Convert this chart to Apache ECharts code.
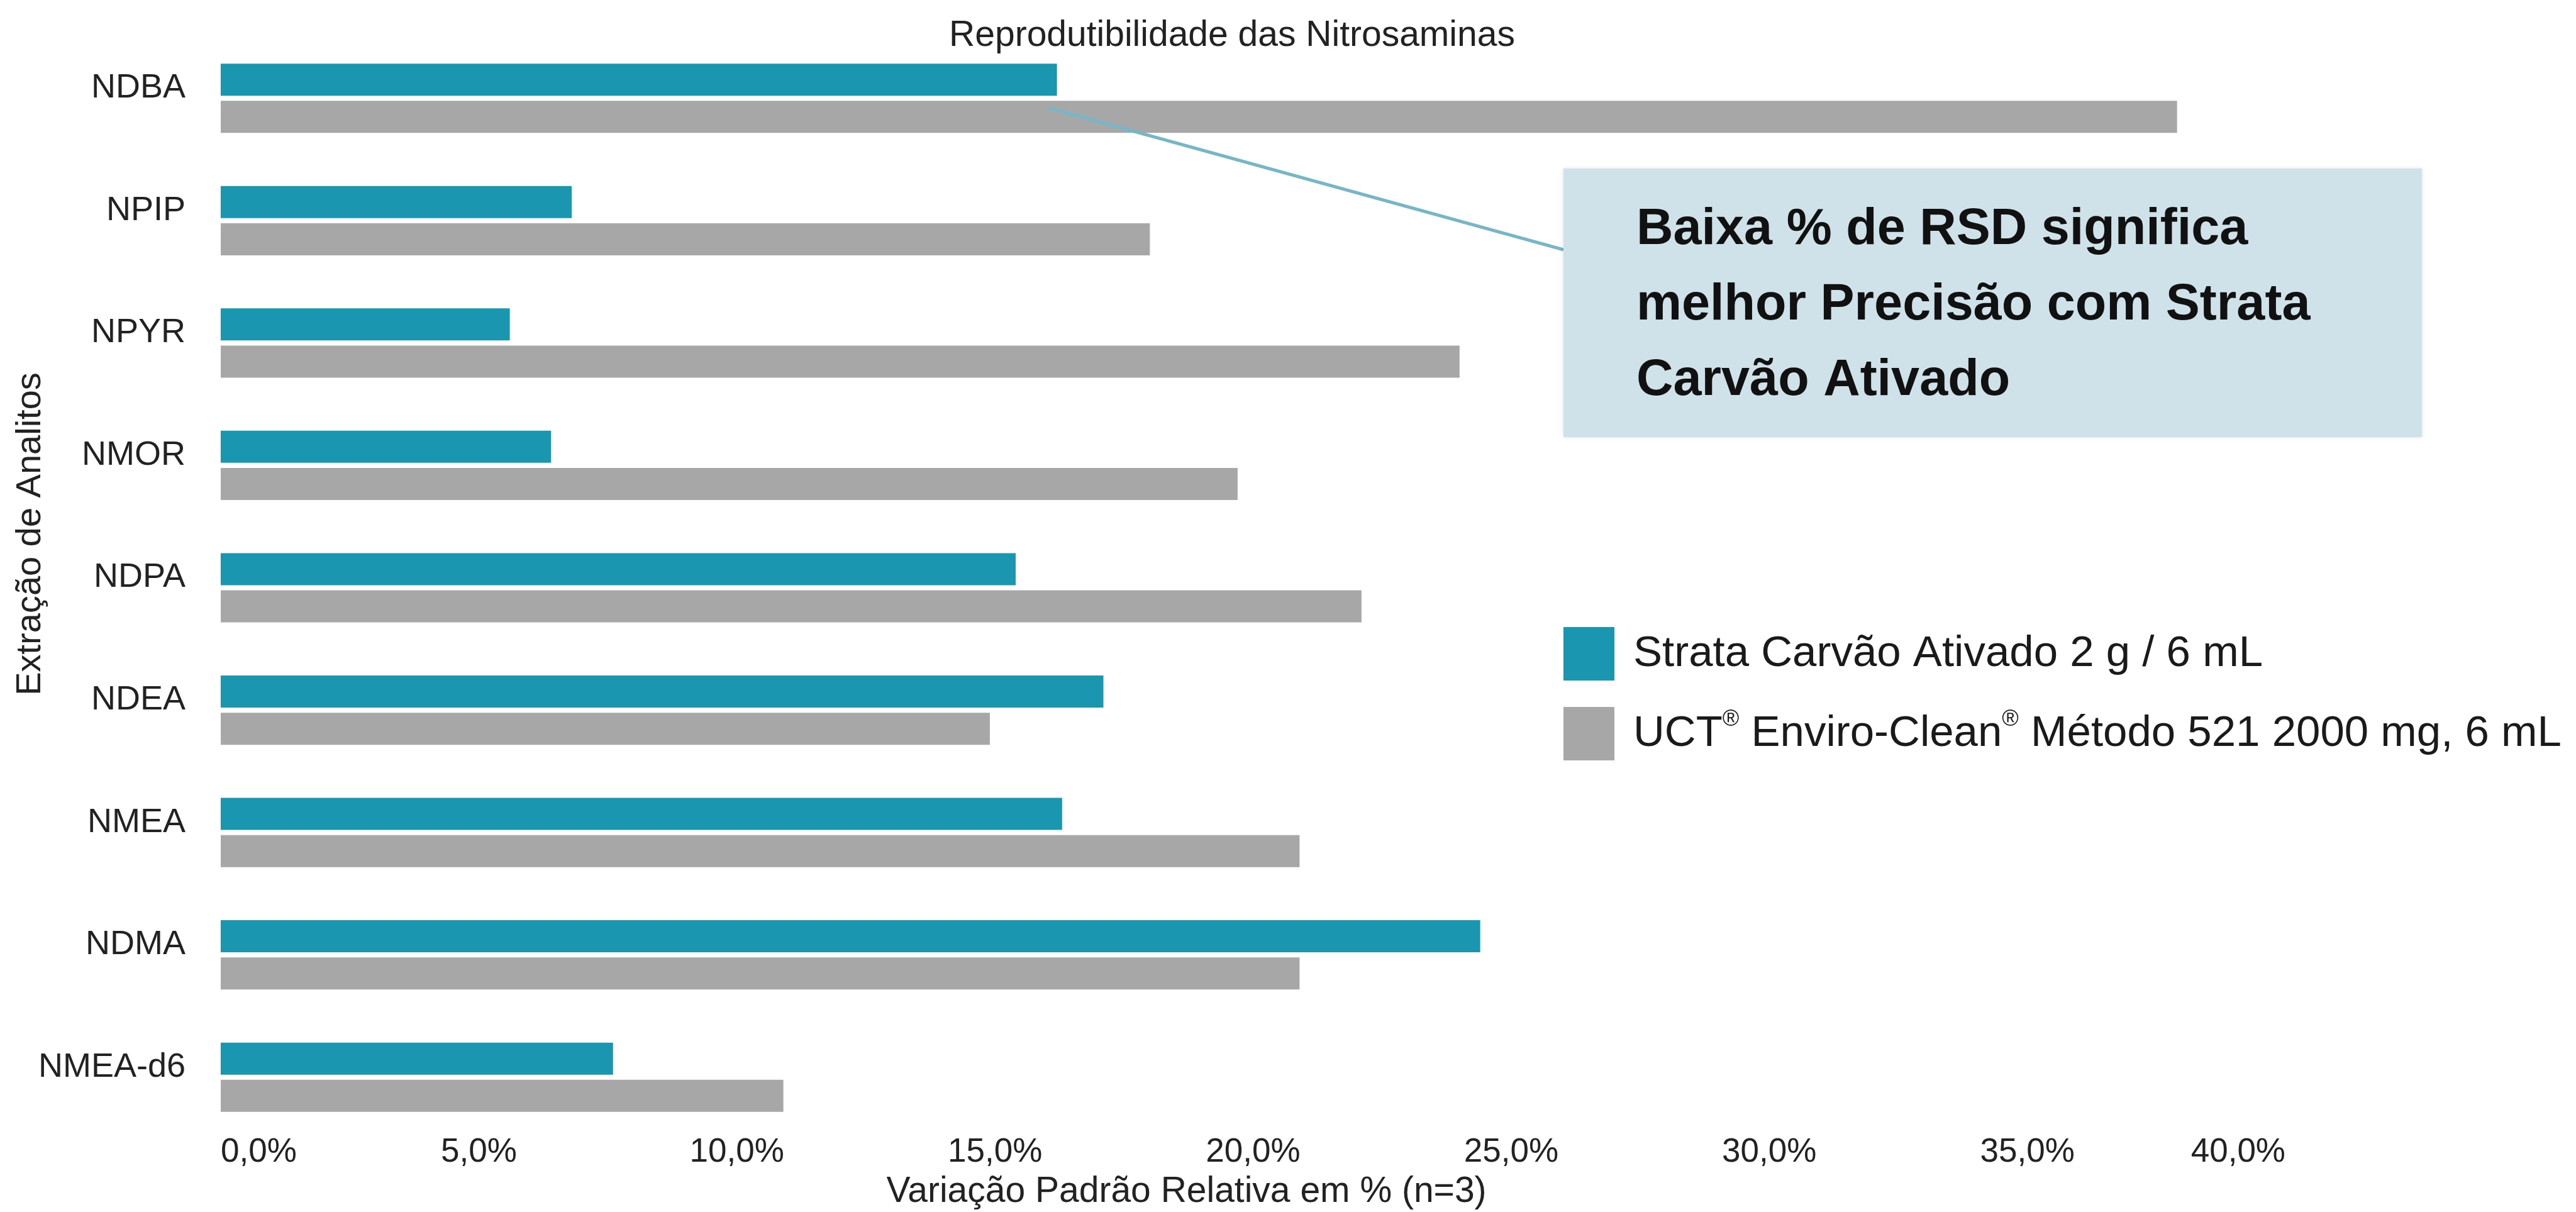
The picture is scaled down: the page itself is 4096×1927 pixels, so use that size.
<!DOCTYPE html>
<html>
<head>
<meta charset="utf-8">
<script src="https://cdn.jsdelivr.net/npm/echarts@6/dist/echarts.min.js"></script>
<style>
  html, body { margin: 0; padding: 0; background: #fff; }
  #chart { width: 4096px; height: 1927px; }
</style>
</head>
<body>
<div id="chart"></div>
<script>
var categories = ['NDBA', 'NPIP', 'NPYR', 'NMOR', 'NDPA', 'NDEA', 'NMEA', 'NDMA', 'NMEA-d6'];
var strataValues = [16.2, 6.8, 5.6, 6.4, 15.4, 17.1, 16.3, 24.4, 7.6];
var uctValues = [37.9, 18.0, 24.0, 19.7, 22.1, 14.9, 20.9, 20.9, 10.9];
var seriesNames = ['Strata Carvão Ativado 2 g / 6 mL', 'UCT® Enviro-Clean® Método 521 2000 mg, 6 mL'];
var calloutLines = ['Baixa % de RSD significa', 'melhor Precisão com Strata', 'Carvão Ativado'];

var FONT = '"Liberation Sans", Arial, sans-serif';
var TEAL = '#1b96b0';
var GRAY = '#a8a7a7';

var chart = echarts.init(document.getElementById('chart'));

function legendText(name) {
  var parts = name.split('®');
  var out = '';
  for (var i = 0; i < parts.length; i++) {
    if (parts[i]) out += '{t|' + parts[i] + '}';
    if (i < parts.length - 1) out += '{s|®}';
  }
  return out;
}

var option = {
  backgroundColor: '#fff',
  animation: false,
  title: {
    text: 'Reprodutibilidade das Nitrosaminas',
    left: 1954,
    top: 24,
    textAlign: 'center',
    textStyle: { fontFamily: FONT, fontSize: 57, fontWeight: 'normal', color: '#222' }
  },
  legend: {
    orient: 'vertical',
    left: 2481,
    top: 992,
    icon: 'rect',
    itemWidth: 81,
    itemHeight: 85,
    itemGap: 42,
    data: seriesNames,
    formatter: legendText,
    textStyle: {
      fontFamily: FONT,
      color: '#1a1a1a',
      padding: [0, 0, 0, 25],
      rich: {
        t: { fontFamily: FONT, fontSize: 69, lineHeight: 80, color: '#1a1a1a' },
        s: { fontFamily: FONT, fontSize: 36, lineHeight: 36, verticalAlign: 'top', color: '#1a1a1a' }
      }
    }
  },
  grid: { left: 351, right: 462, top: 59, bottom: 117, containLabel: false, outerBoundsMode: 'none' },
  xAxis: {
    type: 'value',
    min: 0,
    max: 40,
    interval: 5,
    name: 'Variação Padrão Relativa em % (n=3)',
    nameLocation: 'middle',
    nameGap: 57,
    nameTextStyle: { fontFamily: FONT, fontSize: 57, color: '#222', padding: [0, 212, 0, 0] },
    axisLine: { show: false },
    axisTick: { show: false },
    splitLine: { show: false },
    axisLabel: {
      fontFamily: FONT,
      fontSize: 53,
      color: '#222',
      margin: -4,
      alignMinLabel: 'left',
      alignMaxLabel: 'right',
      formatter: function (v) { return v.toFixed(1).replace('.', ',') + '%'; }
    }
  },
  yAxis: {
    type: 'category',
    inverse: true,
    data: categories,
    axisLine: { show: false },
    axisTick: { show: false },
    splitLine: { show: false },
    axisLabel: {
      fontFamily: FONT,
      fontSize: 54,
      color: '#222',
      margin: 56,
      verticalAlign: 'bottom',
      lineHeight: 32
    }
  },
  series: [
    {
      name: seriesNames[0],
      type: 'bar',
      data: strataValues,
      barWidth: 51,
      barGap: '16%',
      itemStyle: { color: TEAL }
    },
    {
      name: seriesNames[1],
      type: 'bar',
      data: uctValues,
      barWidth: 51,
      barGap: '16%',
      itemStyle: { color: GRAY }
    }
  ]
};

chart.setOption(option);

// callout: leader line from the NDBA Strata bar end to the note box
var start = chart.convertToPixel({ xAxisIndex: 0, yAxisIndex: 0 }, [strataValues[0], categories[0]]);
chart.setOption({
  graphic: [
    {
      type: 'line',
      z: 50,
      shape: { x1: start[0] - 14, y1: start[1] + 15, x2: 2486, y2: 397 },
      style: { stroke: '#76b6c7', lineWidth: 5 }
    },
    {
      type: 'rect',
      z: 51,
      shape: { x: 2486, y: 268, width: 1365, height: 427 },
      style: { fill: '#cfe2ea', shadowBlur: 6, shadowColor: 'rgba(0,0,0,0.12)' }
    },
    {
      type: 'text',
      z: 52,
      x: 2602,
      y: 306,
      style: {
        text: calloutLines.join('\n'),
        fontFamily: FONT,
        fontSize: 81,
        fontWeight: 'bold',
        lineHeight: 120,
        fill: '#111',
        textVerticalAlign: 'top'
      }
    },
    {
      type: 'text',
      z: 52,
      x: 49,
      y: 849,
      rotation: Math.PI / 2,
      style: {
        text: 'Extração de Analitos',
        fontFamily: FONT,
        fontSize: 56,
        fill: '#222',
        textAlign: 'center',
        textVerticalAlign: 'middle'
      }
    }
  ]
});
</script>
</body>
</html>
